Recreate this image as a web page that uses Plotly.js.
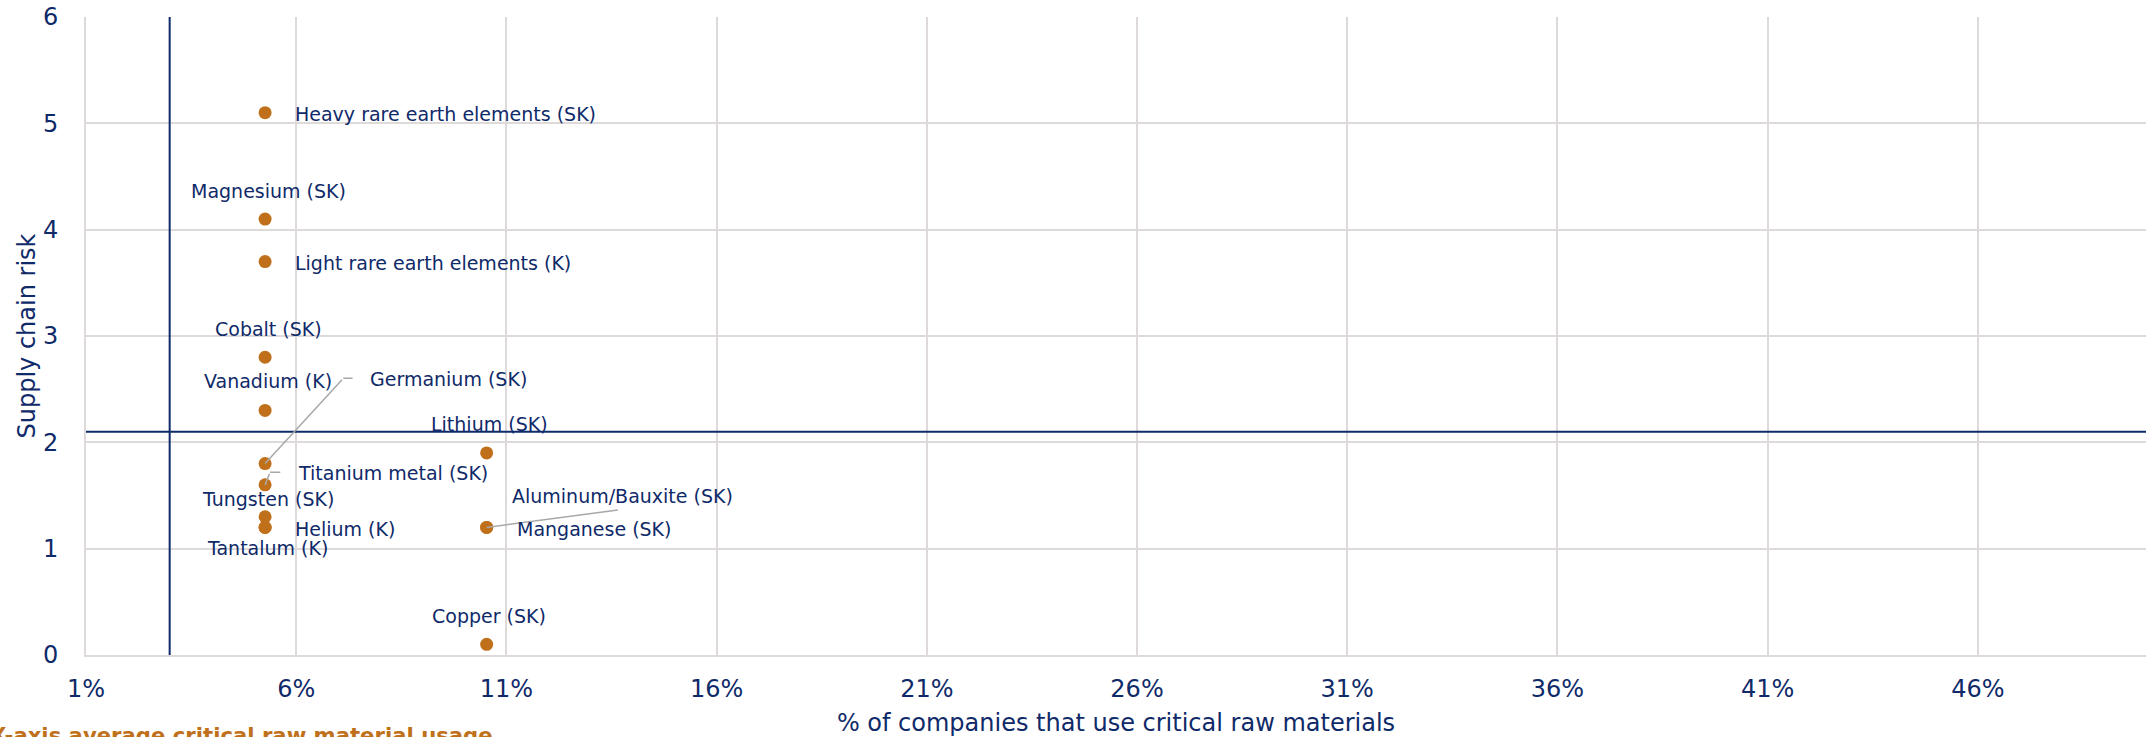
<!DOCTYPE html>
<html>
<head>
<meta charset="utf-8">
<script src="https://cdn.plot.ly/plotly-3.0.1.min.js"></script>
<style>
html,body{margin:0;padding:0;background:#fff;overflow:hidden;}
#chart{width:2146px;height:737px;}
</style>
</head>
<body>
<div id="chart"></div>
<script>
// ---- data ----
const materials = [
  "Heavy rare earth elements (SK)", "Magnesium (SK)", "Light rare earth elements (K)",
  "Cobalt (SK)", "Vanadium (K)", "Germanium (SK)", "Titanium metal (SK)",
  "Tungsten (SK)", "Helium (K)", "Tantalum (K)",
  "Lithium (SK)", "Aluminum/Bauxite (SK)", "Manganese (SK)", "Copper (SK)"
];
const usagePct = [5.26, 5.26, 5.26, 5.26, 5.26, 5.26, 5.26, 5.26, 5.26, 5.26,
                  10.53, 10.53, 10.53, 10.53];
const supplyRisk = [5.1, 4.1, 3.7, 2.8, 2.3, 1.8, 1.6, 1.3, 1.2, 1.2,
                    1.9, 1.2, 1.2, 0.1];
const avgUsage = 2.99;
const avgRisk = 2.1;
const xTickVals = [1, 6, 11, 16, 21, 26, 31, 36, 41, 46];
const yTickVals = [0, 1, 2, 3, 4, 5, 6];

// ---- styling ----
const NAVY = "#0f2a69";
const ORANGE = "#c0701a";
const GRID = "#dedada";
const LEADER = "#a8a8a8";
const FONT = "DejaVu Sans, Verdana, sans-serif";

// label placement (pixel offsets from the point)
const place = {
  "Heavy rare earth elements (SK)": {xa: "left", dx: 28, dy: -1},
  "Magnesium (SK)": {xa: "center", dx: 3, dy: 28.5},
  "Light rare earth elements (K)": {xa: "left", dx: 28, dy: -1},
  "Cobalt (SK)": {xa: "center", dx: 3, dy: 28},
  "Vanadium (K)": {xa: "center", dx: 2.5, dy: 29.5},
  "Germanium (SK)": {xa: "left", dx: 103, dy: 84.5, leader: [78.3, -85.4], elbow: 10.7},
  "Titanium metal (SK)": {xa: "left", dx: 31, dy: 12.2, leader: [5, -12.7], elbow: 11.7},
  "Tungsten (SK)": {xa: "center", dx: 3, dy: 18},
  "Helium (K)": {xa: "left", dx: 28, dy: -1.5},
  "Tantalum (K)": {xa: "center", dx: 2.3, dy: -20.5},
  "Lithium (SK)": {xa: "center", dx: 2.7, dy: 28.5},
  "Aluminum/Bauxite (SK)": {xa: "left", dx: 23, dy: 31.3, leader: [132.7, -17.5]},
  "Manganese (SK)": {xa: "left", dx: 28.5, dy: -1.5},
  "Copper (SK)": {xa: "center", dx: 2.7, dy: 28}
};

const annotations = [];
materials.forEach((m, i) => {
  const p = place[m];
  if (p.leader) {
    annotations.push({
      x: usagePct[i], y: supplyRisk[i], xref: "x", yref: "y",
      text: "", showarrow: true, arrowhead: 0, arrowwidth: 1.5, arrowcolor: LEADER,
      ax: p.leader[0], ay: p.leader[1], standoff: 0, startstandoff: 0
    });
    if (p.elbow) {
      annotations.push({
        x: usagePct[i], y: supplyRisk[i], xref: "x", yref: "y",
        xshift: p.leader[0], yshift: -p.leader[1],
        text: "", showarrow: true, arrowhead: 0, arrowwidth: 1.5, arrowcolor: LEADER,
        ax: p.elbow, ay: 0, standoff: 0, startstandoff: 0
      });
    }
  }
  annotations.push({
    x: usagePct[i], y: supplyRisk[i], xref: "x", yref: "y",
    text: m, showarrow: false, xanchor: p.xa, yanchor: "middle",
    xshift: p.dx, yshift: p.dy,
    font: {family: FONT, size: 19, color: NAVY}
  });
});

annotations.push({
  xref: "paper", yref: "paper", x: 0.1986, y: -0.1035,
  xanchor: "right", yanchor: "top", showarrow: false,
  text: "<b>X-axis average critical raw material usage</b>",
  font: {family: FONT, size: 21.2, color: ORANGE}
});

const traces = [
  {
    x: [avgUsage, avgUsage], y: [yTickVals[0], yTickVals[yTickVals.length - 1]],
    mode: "lines", line: {color: NAVY, width: 2}, hoverinfo: "skip", showlegend: false
  },
  {
    x: [1, 50], y: [avgRisk, avgRisk],
    mode: "lines", line: {color: NAVY, width: 2}, hoverinfo: "skip", showlegend: false
  },
  {
    x: usagePct, y: supplyRisk, text: materials,
    mode: "markers", type: "scatter",
    marker: {color: ORANGE, size: 13},
    showlegend: false
  }
];

const layout = {
  width: 2146, height: 737,
  margin: {l: 86, r: 0, t: 17, b: 82, pad: 0},
  paper_bgcolor: "#fff", plot_bgcolor: "#fff",
  showlegend: false,
  font: {family: FONT, color: NAVY},
  xaxis: {
    range: [1, 50], tickvals: xTickVals, ticktext: xTickVals.map(v => v + "%"),
    showgrid: true, gridcolor: GRID, gridwidth: 2,
    zeroline: false, showline: true, linecolor: GRID, linewidth: 2,
    ticks: "outside", ticklen: 11, tickcolor: "rgba(0,0,0,0)",
    tickfont: {family: FONT, size: 24, color: NAVY},
    title: {text: "% of companies that use critical raw materials",
            font: {family: FONT, size: 24, color: NAVY}, standoff: 12},
    automargin: false, fixedrange: true
  },
  yaxis: {
    range: [0, 6], tickvals: yTickVals,
    showgrid: true, gridcolor: GRID, gridwidth: 2,
    zeroline: false, showline: true, linecolor: GRID, linewidth: 2,
    ticks: "outside", ticklen: 21, tickcolor: "rgba(0,0,0,0)",
    tickfont: {family: FONT, size: 24, color: NAVY},
    title: {text: "Supply chain risk",
            font: {family: FONT, size: 24, color: NAVY}, standoff: 1},
    automargin: false, fixedrange: true
  },
  annotations: annotations
};

Plotly.newPlot("chart", traces, layout, {displayModeBar: false, staticPlot: true});
</script>
</body>
</html>
